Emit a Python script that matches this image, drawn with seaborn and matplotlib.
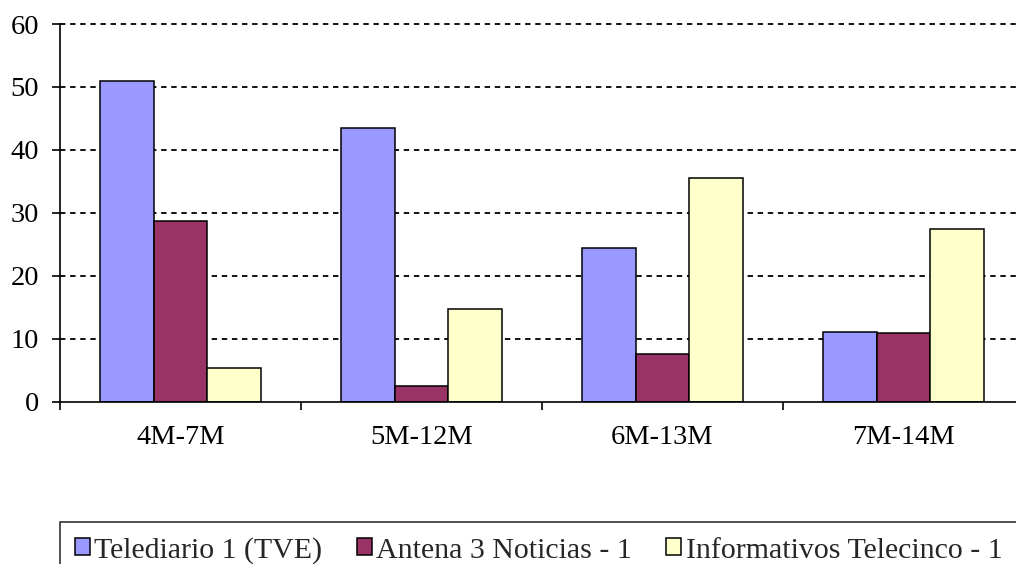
import matplotlib
matplotlib.use("Agg")
import matplotlib.pyplot as plt
import seaborn as sns
import pandas as pd
import numpy as np

categories = ["4M-7M", "5M-12M", "6M-13M", "7M-14M"]
series_names = ["Telediario 1 (TVE)", "Antena 3 Noticias - 1", "Informativos Telecinco - 1"]
tve = [50.9, 43.5, 24.4, 11.1]
antena3 = [28.7, 2.5, 7.6, 10.9]
telecinco = [5.35, 14.7, 35.6, 27.4]
colors = ["#9999FF", "#993366", "#FFFFCC"]
yticks = [0, 10, 20, 30, 40, 50, 60]

rows = []
for name, vals in zip(series_names, [tve, antena3, telecinco]):
    for c, v in zip(categories, vals):
        rows.append({"period": c, "series": name, "value": v})
df = pd.DataFrame(rows)

sns.set_theme(style="white")
plt.rcParams["font.family"] = ["Liberation Serif", "DejaVu Serif"]

fig = plt.figure(figsize=(10.16, 5.64), dpi=100)
ax = fig.add_axes([60/1016, 1 - 401.7/564, 964/1016, (401.7 - 24)/564])

sns.barplot(data=df, x="period", y="value", hue="series", order=categories,
            hue_order=series_names, palette=colors, width=0.672, gap=0,
            edgecolor="black", linewidth=1.1, saturation=1, ax=ax, legend=True,
            zorder=3)

ax.set_xlim(-0.5, 3.5)
ax.set_ylim(0, 60)
ax.set_yticks(yticks)
ax.set_yticklabels([str(t) for t in yticks])
ax.set_xlabel("")
ax.set_ylabel("")

for y in yticks[1:]:
    ax.axhline(y, color="black", lw=1.3, linestyle=(0, (3, 2.6)), zorder=1, clip_on=False)

for s in ["top", "right"]:
    ax.spines[s].set_visible(False)
for s in ["left", "bottom"]:
    ax.spines[s].set_color("black")
    ax.spines[s].set_linewidth(1.2)
    ax.spines[s].set_zorder(4)

ax.tick_params(axis="y", which="major", direction="out", length=6, width=1.2,
               color="black", left=True, pad=9, labelsize=20.5, labelcolor="black")
ax.tick_params(axis="x", which="major", length=0, pad=17, labelsize=20.5, labelcolor="black")
ax.set_xticks([-0.5, 0.5, 1.5, 2.5, 3.5], minor=True)
ax.tick_params(axis="x", which="minor", direction="out", length=6, width=1.2,
               color="black", bottom=True)

handles, labels = ax.get_legend_handles_labels()
ax.get_legend().remove()
leg = fig.legend(handles, labels, loc="upper left",
                 bbox_to_anchor=(60/1016, 1 - 522/564), ncol=3,
                 fontsize=21.5, frameon=True, fancybox=False, edgecolor="black",
                 handlelength=0.5, handleheight=0.5, handletextpad=0.15,
                 columnspacing=1.15, borderpad=0.5, borderaxespad=0)
leg.get_frame().set_linewidth(1.2)
leg.get_frame().set_facecolor("white")

fig.savefig("out.png", dpi=100)
